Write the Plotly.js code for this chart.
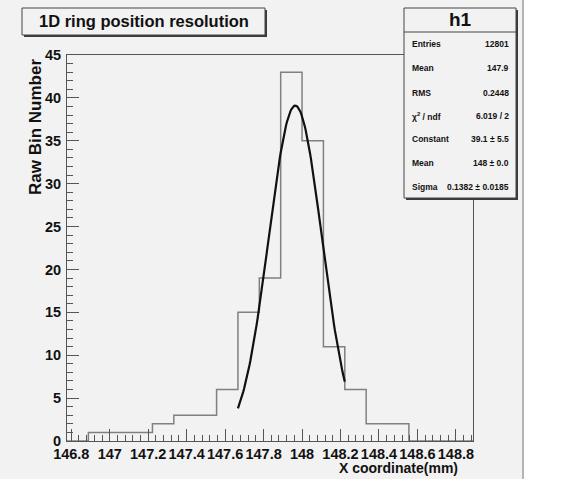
<!DOCTYPE html>
<html>
<head>
<meta charset="utf-8">
<script src="https://cdn.plot.ly/plotly-3.0.1.min.js"></script>
<style>
  html, body { margin: 0; padding: 0; background: #ffffff; }
  #plot { width: 580px; height: 479px; }
</style>
</head>
<body>
<div id="plot"></div>
<script>
// Histogram h1: 19 equal bins between binLow and binHigh
const binLow = 146.7778;
const binHigh = 148.8889;
const counts = [0, 1, 1, 1, 2, 3, 3, 6, 15, 19, 43, 35, 11, 6, 2, 2, 0, 0, 0];

// Gaussian fit parameters and the range it was fitted over
const fitConstant = 39.1;
const fitMean = 147.965;
const fitSigma = 0.1382;
const fitLow = 147.6667;
const fitHigh = 148.2222;

// Axis tick labels
const xTickVals = [146.8, 147.0, 147.2, 147.4, 147.6, 147.8, 148.0, 148.2, 148.4, 148.6, 148.8];
const xTickText = ["146.8", "147", "147.2", "147.4", "147.6", "147.8", "148", "148.2", "148.4", "148.6", "148.8"];
const yTickVals = [0, 5, 10, 15, 20, 25, 30, 35, 40, 45];
const yTickText = ["0", "5", "10", "15", "20", "25", "30", "35", "40", "45"];

// Statistics box rows
const statLabels = ["Entries", "Mean", "RMS", "\u03c7<sup>2</sup> / ndf", "Constant", "Mean", "Sigma"];
const statValues = ["12801", "147.9", "0.2448", "6.019 / 2", "39.1 \u00b1 5.5", "148 \u00b1 0.0", "0.1382 \u00b1 0.0185"];

// ---- build traces ----
const binWidth = (binHigh - binLow) / counts.length;
const edges = [];
for (let i = 0; i <= counts.length; i++) edges.push(binLow + i * binWidth);
const stepY = counts.concat([counts[counts.length - 1]]);

const fitX = [], fitY = [];
const nFit = 120;
for (let i = 0; i <= nFit; i++) {
  const x = fitLow + (fitHigh - fitLow) * i / nFit;
  fitX.push(x);
  fitY.push(fitConstant * Math.exp(-0.5 * Math.pow((x - fitMean) / fitSigma, 2)));
}

const histTrace = {
  x: edges, y: stepY, type: 'scatter', mode: 'lines',
  line: { shape: 'hv', color: '#808080', width: 1.5 },
  hoverinfo: 'skip', showlegend: false
};
const fitTrace = {
  x: fitX, y: fitY, type: 'scatter', mode: 'lines',
  line: { color: '#111111', width: 2.2 },
  hoverinfo: 'skip', showlegend: false
};

// ---- layout in pixel terms of the frame ----
const M = { l: 67, r: 107, t: 55, b: 38 };
const W = 580, H = 479;
const pw = W - M.l - M.r, ph = H - M.t - M.b;
const px = v => (v - M.l) / pw;
const py = v => (H - M.b - v) / ph;

const bg = '#f2f2f2';
const FAMILY = 'Liberation Sans, Arial, Helvetica, sans-serif';
const labelFont = { family: FAMILY, size: 14.5, color: '#111', weight: 'bold' };
const statFont = { family: FAMILY, size: 8.5, color: '#111', weight: 'bold' };

function box(x0, y0, x1, y1, shadow) {
  return [
    { type: 'rect', xref: 'paper', yref: 'paper', x0: px(x0 + shadow), x1: px(x1 + shadow), y0: py(y1 + shadow), y1: py(y0 + shadow),
      fillcolor: '#3a3a3a', line: { width: 0 }, layer: 'above' },
    { type: 'rect', xref: 'paper', yref: 'paper', x0: px(x0), x1: px(x1), y0: py(y1), y1: py(y0),
      fillcolor: bg, line: { color: '#444', width: 1 }, layer: 'above' }
  ];
}

const shapes = []
  .concat([
    { type: 'rect', xref: 'paper', yref: 'paper', x0: px(523), x1: px(W + 5), y0: py(H + 5), y1: py(-5),
      fillcolor: '#ffffff', line: { width: 0 }, layer: 'below' },
    { type: 'line', xref: 'paper', yref: 'paper', x0: px(523), x1: px(523), y0: py(H), y1: py(0),
      line: { color: '#b5b5b5', width: 2 }, layer: 'below' }
  ])
  .concat(box(22, 8, 265, 35, 2))
  .concat(box(404, 8, 516, 198, 2))
  .concat([
    { type: 'line', xref: 'paper', yref: 'paper', x0: px(404), x1: px(516), y0: py(32), y1: py(32),
      line: { color: '#444', width: 1 }, layer: 'above' }
  ]);

const annotations = [
  { xref: 'paper', yref: 'paper', x: px(143.5), y: py(21.5), xanchor: 'center', yanchor: 'middle',
    text: '1D ring position resolution', showarrow: false,
    font: { family: FAMILY, size: 16.5, color: '#111', weight: 'bold' } },
  { xref: 'paper', yref: 'paper', x: px(460), y: py(20), xanchor: 'center', yanchor: 'middle',
    text: 'h1', showarrow: false,
    font: { family: FAMILY, size: 19, color: '#111', weight: 'bold' } },
  { xref: 'paper', yref: 'paper', x: 1 - (473 - 460) / pw, y: py(468), xanchor: 'right', yanchor: 'middle',
    text: 'X coordinate(mm)', showarrow: false, font: { family: FAMILY, size: 14, color: '#111', weight: 'bold' } },
  { xref: 'paper', yref: 'paper', x: px(35), y: py(57), xanchor: 'center', yanchor: 'top',
    text: 'Raw Bin Number', showarrow: false, textangle: -90,
    font: { family: FAMILY, size: 17, color: '#111', weight: 'bold' } }
];
const rowY = [44.3, 68.3, 92.5, 116, 139.3, 163.3, 186.5];
statLabels.forEach((s, i) => {
  annotations.push({ xref: 'paper', yref: 'paper', x: px(410), y: py(rowY[i]), xanchor: 'left', yanchor: 'middle',
    text: s, showarrow: false, font: statFont });
  annotations.push({ xref: 'paper', yref: 'paper', x: px(511), y: py(rowY[i]), xanchor: 'right', yanchor: 'middle',
    text: statValues[i], showarrow: false, font: statFont });
});

const axisCommon = {
  showgrid: false, zeroline: false, showline: true, linecolor: '#555', linewidth: 1,
  mirror: true, ticks: 'inside', tickcolor: '#555', tickwidth: 1, ticklen: 12,
  tickfont: labelFont, tickangle: 0, fixedrange: true
};

const layout = {
  width: W, height: H,
  margin: M,
  paper_bgcolor: bg, plot_bgcolor: bg,
  showlegend: false,
  xaxis: Object.assign({}, axisCommon, {
    range: [binLow, binHigh], tickmode: 'array', tickvals: xTickVals, ticktext: xTickText,
    minor: { ticks: 'inside', ticklen: 6, tick0: 146.8, dtick: 0.04, tickcolor: '#555', showgrid: false }
  }),
  yaxis: Object.assign({}, axisCommon, {
    range: [0, 45], tickmode: 'array', tickvals: yTickVals, ticktext: yTickText, ticklabelstandoff: 2,
    minor: { ticks: 'inside', ticklen: 6, tick0: 0, dtick: 1, tickcolor: '#555', showgrid: false }
  }),
  shapes: shapes,
  annotations: annotations
};

Plotly.newPlot('plot', [histTrace, fitTrace], layout, { staticPlot: true, displayModeBar: false });
</script>
</body>
</html>
